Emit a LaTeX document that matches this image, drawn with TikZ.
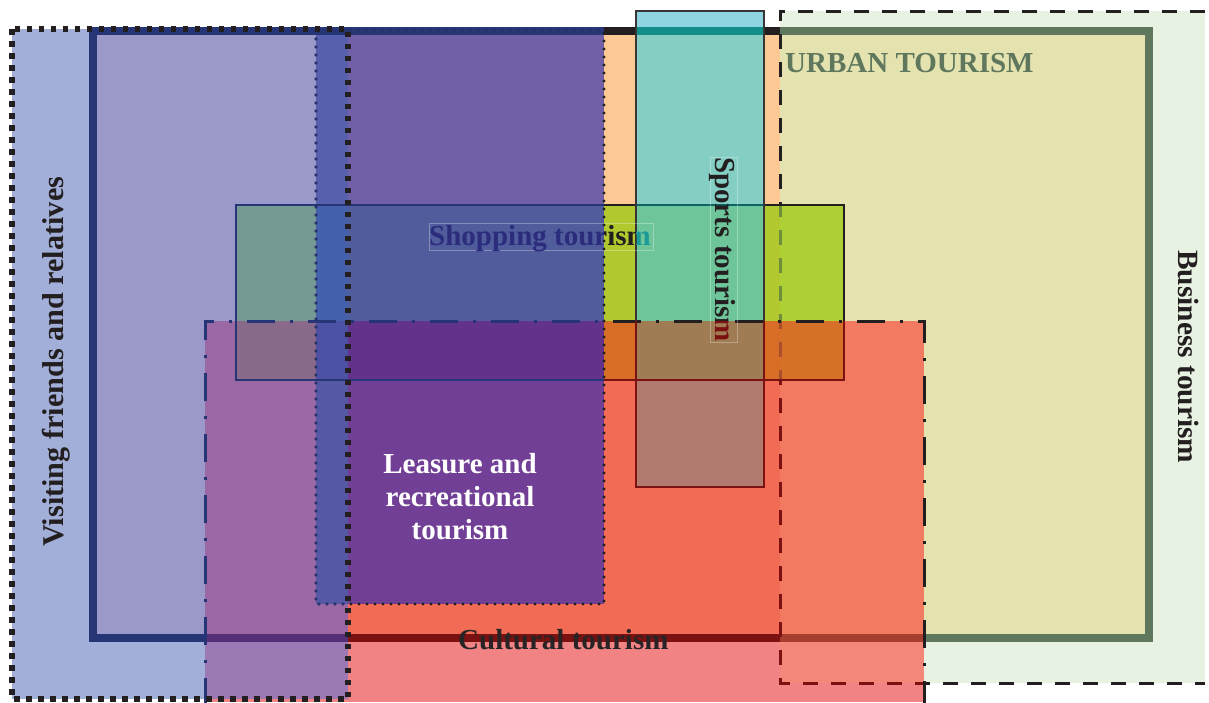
\documentclass[tikz,border=0pt]{standalone}
\usepackage{fontspec}
\setmainfont{Liberation Serif}
% region colours (overlaps of the tourism sets)
\definecolor{Bo}{HTML}{E8F2E2}
\definecolor{Vo}{HTML}{A2B0D9}
\definecolor{Co}{HTML}{F28385}
\definecolor{VC}{HTML}{9C79B4}
\definecolor{CB}{HTML}{F2877A}
\definecolor{Po}{HTML}{8FD4E1}
\definecolor{Uo}{HTML}{FCC995}
\definecolor{UV}{HTML}{9B99C9}
\definecolor{UB}{HTML}{E4E3B0}
\definecolor{UC}{HTML}{F26B55}
\definecolor{UVC}{HTML}{9B68A6}
\definecolor{UCB}{HTML}{F27A60}
\definecolor{UL}{HTML}{715FA8}
\definecolor{ULC}{HTML}{723F96}
\definecolor{UVL}{HTML}{5660AD}
\definecolor{UVLC}{HTML}{5559A5}
\definecolor{UP}{HTML}{84CEC4}
\definecolor{UPC}{HTML}{B07A6E}
\definecolor{UVS}{HTML}{759A93}
\definecolor{UVSC}{HTML}{8A6A8A}
\definecolor{UVLS}{HTML}{4560AC}
\definecolor{UVLSC}{HTML}{4E52A4}
\definecolor{ULS}{HTML}{515C9C}
\definecolor{ULSC}{HTML}{63338C}
\definecolor{US}{HTML}{B1C82F}
\definecolor{USC}{HTML}{D86D28}
\definecolor{UPS}{HTML}{6FC59A}
\definecolor{UPSC}{HTML}{A07C55}
\definecolor{USB}{HTML}{AED035}
\definecolor{USCB}{HTML}{D67028}
% line colours
\definecolor{ink}{HTML}{231F20}
\definecolor{navy}{HTML}{253575}
\definecolor{sage}{HTML}{5F775C}
\definecolor{teal}{HTML}{128F8B}
\definecolor{wine}{HTML}{7B1111}
\definecolor{plum}{HTML}{553079}
\definecolor{brick}{HTML}{A63E30}
\definecolor{olive}{HTML}{6F8E3C}
\definecolor{rust}{HTML}{A9502A}
\definecolor{shopnavy}{HTML}{2B2C7B}
\definecolor{shopteal}{HTML}{1C9A96}
\newcommand\fillcell[5]{\fill[#5] (#1,#2) rectangle (#3,#4);}
\begin{document}
\begin{tikzpicture}[x=1pt,y=-1pt,
  lbl/.style={inner sep=0pt,font=\bfseries\fontsize{29}{33}\selectfont},
  urbline/.style={line width=8pt},
  bizdash/.style={line width=3pt,dash pattern=on 15pt off 13pt},
  culdash/.style={line width=3pt,dash pattern=on 28pt off 15pt on 3pt off 15pt},
  leidot/.style={line width=3.2pt,line cap=round,dash pattern=on 0pt off 8pt},
  vfrdot/.style={line width=5.5pt,dash pattern=on 5.5pt off 6.5pt},
  thinline/.style={line width=1.6pt},
  textbox/.style={draw=white,draw opacity=0.3,line width=0.8pt}]
\useasboundingbox (0,0) rectangle (1209,702);

% ---- coloured regions ----
\fillcell{780}{11}{1205}{683}{Bo}
\fillcell{12}{29}{348}{699}{Vo}
\fillcell{205}{321}{924}{702}{Co}
\fillcell{205}{642}{348}{699}{VC}
\fillcell{780}{642}{924}{683}{CB}
\fillcell{636}{11}{764}{27}{Po}
\fillcell{93}{31}{1149}{638}{Uo}
\fillcell{93}{31}{348}{638}{UV}
\fillcell{780}{31}{1149}{638}{UB}
\fillcell{205}{321}{924}{638}{UC}
\fillcell{205}{321}{348}{638}{UVC}
\fillcell{780}{321}{924}{638}{UCB}
\fillcell{348}{31}{604}{604}{UL}
\fillcell{348}{321}{604}{604}{ULC}
\fillcell{316}{31}{348}{604}{UVL}
\fillcell{316}{321}{348}{604}{UVLC}
\fillcell{636}{31}{764}{487}{UP}
\fillcell{636}{321}{764}{487}{UPC}
% shopping band
\fillcell{236}{205}{316}{321}{UVS}
\fillcell{236}{321}{316}{380}{UVSC}
\fillcell{316}{205}{348}{321}{UVLS}
\fillcell{316}{321}{348}{380}{UVLSC}
\fillcell{348}{205}{604}{321}{ULS}
\fillcell{348}{321}{604}{380}{ULSC}
\fillcell{604}{205}{636}{321}{US}
\fillcell{604}{321}{636}{380}{USC}
\fillcell{636}{205}{764}{321}{UPS}
\fillcell{636}{321}{764}{380}{UPSC}
\fillcell{764}{205}{780}{321}{US}
\fillcell{764}{321}{780}{380}{USC}
\fillcell{780}{205}{844}{321}{USB}
\fillcell{780}{321}{844}{380}{USCB}

% ---- urban tourism frame ----
\draw[urbline,navy] (93,27) -- (93,642);
\draw[urbline,sage] (1149,27) -- (1149,642);
\draw[urbline,navy] (89,31) -- (604,31);
\draw[urbline,ink] (604,31) -- (636,31);
\draw[urbline,teal] (636,31) -- (764,31);
\draw[urbline,ink] (764,31) -- (780,31);
\draw[urbline,sage] (780,31) -- (1153,31);
\draw[urbline,navy] (89,638) -- (205,638);
\draw[urbline,plum] (205,638) -- (348,638);
\draw[urbline,wine] (348,638) -- (780,638);
\draw[urbline,brick] (780,638) -- (924,638);
\draw[urbline,sage] (924,638) -- (1153,638);

% ---- business tourism (dashed) ----
\draw[bizdash,ink] (1205,11) -- (780,11) -- (780,683) -- (1205,683);
\begin{scope}
  \clip (770,205) rectangle (790,321);
  \draw[bizdash,olive] (1205,11) -- (780,11) -- (780,683) -- (1205,683);
\end{scope}
\begin{scope}
  \clip (770,321) rectangle (790,380);
  \draw[bizdash,rust] (1205,11) -- (780,11) -- (780,683) -- (1205,683);
\end{scope}
\begin{scope}
  \clip (770,380) rectangle (924,700);
  \draw[bizdash,wine] (1205,11) -- (780,11) -- (780,683) -- (1205,683);
\end{scope}

% ---- cultural tourism (dash-dot) ----
\draw[culdash,ink] (205,706) -- (205,321) -- (924,321) -- (924,706);
\begin{scope}
  \clip (195,311) rectangle (604,706);
  \draw[culdash,navy] (205,706) -- (205,321) -- (924,321) -- (924,706);
\end{scope}

% ---- shopping tourism (thin) ----
\draw[thinline,navy] (236,205) rectangle (844,380);
\begin{scope}
  \clip (604,195) rectangle (850,390);
  \draw[thinline,ink] (236,205) rectangle (844,380);
\end{scope}
\begin{scope}
  \clip (636,198) rectangle (764,212);
  \draw[thinline,teal!70!black] (236,205) rectangle (844,380);
\end{scope}
\begin{scope}
  \clip (604,372) rectangle (850,390);
  \draw[thinline,wine] (236,205) rectangle (844,380);
\end{scope}
\begin{scope}
  \clip (836,321) rectangle (850,390);
  \draw[thinline,wine] (236,205) rectangle (844,380);
\end{scope}

% ---- sports tourism (thin) ----
\draw[thinline,ink!90] (636,11) rectangle (764,487);
\begin{scope}
  \clip (620,321) rectangle (780,495);
  \draw[thinline,wine] (636,11) rectangle (764,487);
\end{scope}

% ---- leisure and recreational tourism (round dots) ----
\draw[leidot,ink] (316,31) rectangle (604,604);
\begin{scope}
  \clip (306,20) rectangle (348,614);
  \draw[leidot,navy] (316,31) rectangle (604,604);
\end{scope}
\begin{scope}
  \clip (306,20) rectangle (600,38);
  \draw[leidot,navy] (316,31) rectangle (604,604);
\end{scope}

% ---- visiting friends and relatives (square dots) ----
\draw[vfrdot,ink] (12,29) rectangle (348,699);

% ---- faint text frames ----
\draw[textbox] (429,223) rectangle (653,250);
\draw[textbox] (710,157) rectangle (737,342);

% ---- labels ----
\node[lbl,text=sage,anchor=base west] (urban) at (785,72) {URBAN TOURISM};
\begin{scope}
  \clip (400,200) rectangle (604,260);
  \node[lbl,text=shopnavy,anchor=base west] (shopA) at (429,245) {Shopping tourism};
\end{scope}
\begin{scope}
  \clip (604,200) rectangle (636,260);
  \node[lbl,text=ink,anchor=base west] (shopB) at (429,245) {Shopping tourism};
\end{scope}
\begin{scope}
  \clip (636,200) rectangle (700,260);
  \node[lbl,text=shopteal,anchor=base west] (shopC) at (429,245) {Shopping tourism};
\end{scope}
\begin{scope}
  \clip (700,140) rectangle (750,321);
  \node[lbl,text=ink,rotate=-90,anchor=base west] (sportsA) at (715,157) {Sports tourism};
\end{scope}
\begin{scope}
  \clip (700,321) rectangle (750,360);
  \node[lbl,text=wine,rotate=-90,anchor=base west] (sportsB) at (715,157) {Sports tourism};
\end{scope}
\node[lbl,text=ink,rotate=-90,anchor=base west,font=\bfseries\fontsize{29.4}{33}\selectfont] (business) at (1178,250) {Business tourism};
\node[lbl,text=ink,rotate=90,anchor=base west,font=\bfseries\fontsize{30.2}{33}\selectfont] (vfr) at (63,547) {Visiting friends and relatives};
\node[lbl,text=white,align=center] (leisure) at (460,497) {Leasure and\\recreational\\tourism};
\node[lbl,text=ink!95!gray,anchor=base west] (cultural) at (458,649) {Cultural tourism};
\end{tikzpicture}
\end{document}
